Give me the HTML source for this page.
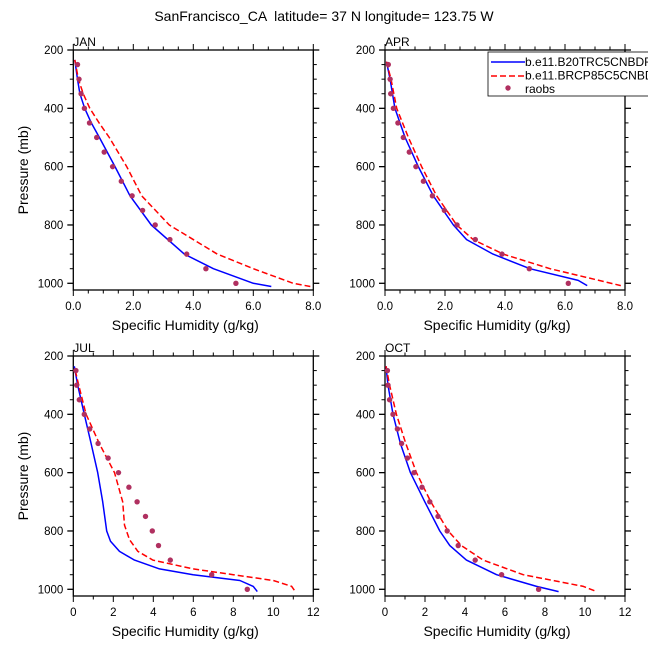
<!DOCTYPE html>
<html><head><meta charset="utf-8"><style>
body{margin:0;background:#fff;}
svg{display:block;font-family:"Liberation Sans",Arial,sans-serif;}
</style></head><body>
<svg id="fig" width="648" height="649" xmlns="http://www.w3.org/2000/svg">
<text x="324" y="21" font-size="14" text-anchor="middle" style="white-space:pre">SanFrancisco_CA  latitude= 37 N longitude= 123.75 W</text>
</svg>
<script>
// ---- data ----
const panelNames = ["JAN","APR","JUL","OCT"];
const xMaxes = [8, 8, 12, 12];
const yTickLabels = [200, 400, 600, 800, 1000];
const xTickLabelsSmall = ["0.0","2.0","4.0","6.0","8.0"];
const xTickLabelsLarge = ["0","2","4","6","8","10","12"];
const raobsP = [250,300,350,400,450,500,550,600,650,700,750,800,850,900,950,1000];
const janRaobs = [0.14,0.19,0.26,0.37,0.54,0.78,1.03,1.31,1.6,1.96,2.31,2.73,3.22,3.78,4.42,5.42];
const aprRaobs = [0.11,0.17,0.19,0.28,0.43,0.61,0.81,1.03,1.28,1.58,1.98,2.4,3.01,3.9,4.81,6.11];
const julRaobs = [0.13,0.17,0.3,0.55,0.82,1.24,1.74,2.26,2.78,3.19,3.61,3.95,4.26,4.85,6.92,8.7];
const octRaobs = [0.12,0.15,0.23,0.4,0.62,0.83,1.12,1.45,1.85,2.24,2.65,3.11,3.66,4.51,5.83,7.68];
const janBlueP = [234,300,350,400,450,500,600,700,800,900,950,1000,1011];
const janBlueQ = [0.05,0.14,0.22,0.38,0.6,0.87,1.39,1.89,2.6,3.7,4.67,6.0,6.6];
const janRedP = [234,300,350,400,450,500,600,700,800,900,950,1000,1011];
const janRedQ = [0.05,0.17,0.33,0.55,0.86,1.2,1.78,2.28,3.2,4.8,6.0,7.33,7.9];
const aprBlueP = [240,300,400,500,600,700,800,850,900,950,990,1008];
const aprBlueQ = [0.05,0.17,0.33,0.67,1.11,1.61,2.28,2.72,3.6,4.83,6.44,6.74];
const aprRedP = [240,300,400,500,600,700,800,850,900,950,1008];
const aprRedQ = [0.05,0.2,0.39,0.78,1.22,1.72,2.39,2.94,3.94,5.5,7.86];
const julBlueP = [235,300,400,500,600,700,800,835,870,900,930,950,970,990,1008];
const julBlueQ = [0.05,0.22,0.55,0.89,1.22,1.47,1.67,1.86,2.31,3.06,4.31,5.99,8.33,9.0,9.2];
const julRedP = [250,300,400,500,600,700,780,830,870,900,930,950,970,990,1003];
const julRedQ = [0.1,0.27,0.64,1.3,2.06,2.47,2.56,2.81,3.23,3.98,5.99,8.0,10.0,10.92,11.05];
const octBlueP = [235,300,400,500,600,700,800,850,900,950,990,1008];
const octBlueQ = [0.05,0.15,0.4,0.77,1.27,1.99,2.74,3.24,4.07,5.58,7.58,8.68];
const octRedP = [235,300,400,500,600,700,800,850,900,950,990,1008];
const octRedQ = [0.05,0.23,0.57,1.04,1.57,2.29,3.16,3.82,4.91,6.91,9.92,10.58];
const legendLabels = ["b.e11.B20TRC5CNBDRD","b.e11.BRCP85C5CNBDRD","raobs"];

const NS="http://www.w3.org/2000/svg";
const svg=document.getElementById('fig');
function mk(tag,attrs,parent){const e=document.createElementNS(NS,tag);for(const k in attrs)e.setAttribute(k,attrs[k]);(parent||svg).appendChild(e);return e;}

const layout=[{l:73.3,t:50},{l:385,t:50},{l:73.3,t:356},{l:385,t:356}];
const W=240,H=240,PMIN=200,PMAX=1023;
const blues=[[janBlueP,janBlueQ],[aprBlueP,aprBlueQ],[julBlueP,julBlueQ],[octBlueP,octBlueQ]];
const reds=[[janRedP,janRedQ],[aprRedP,aprRedQ],[julRedP,julRedQ],[octRedP,octRedQ]];
const raobs=[janRaobs,aprRaobs,julRaobs,octRaobs];

for(let i=0;i<4;i++){
  const L=layout[i].l,T=layout[i].t,xm=xMaxes[i];
  const xs=q=>L+q/xm*W;
  const ys=p=>T+(p-PMIN)/(PMAX-PMIN)*H;
  const g=mk('g',{});
  
  
  const cp=mk('clipPath',{id:'cp'+i},g);mk('rect',{x:L,y:T,width:W,height:H},cp);
  const minorStep=xm===8?0.5:1, majorStep=2;
  for(let q=0;q<=xm+1e-9;q+=minorStep){
    const maj=Math.abs(q/majorStep-Math.round(q/majorStep))<1e-6;const len=maj?6:3.5;const x=xs(q);
    mk('line',{x1:x,y1:T+H,x2:x,y2:T+H+len,stroke:'#000','stroke-width':1},g);
    mk('line',{x1:x,y1:T,x2:x,y2:T-len,stroke:'#000','stroke-width':1},g);
  }
  for(let p=200;p<=1000;p+=50){
    const maj=p%200===0;const len=maj?6:3.5;const y=ys(p);
    mk('line',{x1:L,y1:y,x2:L-len,y2:y,stroke:'#000','stroke-width':maj?1.3:1},g);
    mk('line',{x1:L+W,y1:y,x2:L+W+len,y2:y,stroke:'#000','stroke-width':maj?1.3:1},g);
  }
  const labs=xm===8?xTickLabelsSmall:xTickLabelsLarge;
  labs.forEach((s,k)=>{const t=mk('text',{x:xs(k*2),y:T+H+20,'font-size':11.5,'text-anchor':'middle'},g);t.textContent=s;
    });
  yTickLabels.forEach(p=>{const t=mk('text',{x:L-10,y:ys(p)+4,'font-size':11.5,'text-anchor':'end'},g);t.textContent=p;
    });
  const fr=mk('rect',{x:L,y:T,width:W,height:H,fill:'none',stroke:'#000','stroke-width':1.3},g);
  
  const pl=mk('text',{x:L,y:T-4,'font-size':12},g);pl.textContent=panelNames[i];
  
  const xt=mk('text',{x:L+W/2-8,y:T+H+40,'font-size':14,'text-anchor':'middle'},g);xt.textContent='Specific Humidity (g/kg)';
  
  if(i%2===0){const yt=mk('text',{x:0,y:0,'font-size':14,'text-anchor':'middle',transform:`translate(28,${T+H/2}) rotate(-90)`},g);yt.textContent='Pressure (mb)';
    }
  const path=(P,Q)=>P.map((p,k)=>(k?'L':'M')+xs(Q[k]).toFixed(1)+','+ys(p).toFixed(1)).join(' ');
  const bl=mk('path',{d:path(blues[i][0],blues[i][1]),fill:'none',stroke:'#0000ff','stroke-width':1.5,'stroke-linejoin':'round','clip-path':`url(#cp${i})`},g);
  
  const rd=mk('path',{d:path(reds[i][0],reds[i][1]),fill:'none',stroke:'#ff0000','stroke-width':1.5,'stroke-dasharray':'6,3','stroke-linejoin':'round','clip-path':`url(#cp${i})`},g);
  
  raobs[i].forEach((q,k)=>{const c=mk('circle',{cx:xs(q),cy:ys(raobsP[k]),r:2.7,fill:'#b03060'},g);
    });
}
const lg=mk('g',{});


mk('rect',{x:488,y:52,width:170,height:44,fill:'#fff',stroke:'#000','stroke-width':0.8},lg);
mk('line',{x1:491,y1:62,x2:525,y2:62,stroke:'#0000ff','stroke-width':1.5},lg);
mk('line',{x1:491,y1:76,x2:525,y2:76,stroke:'#ff0000','stroke-width':1.5,'stroke-dasharray':'6,3'},lg);
mk('circle',{cx:508,cy:88,r:2.7,fill:'#b03060'},lg);
legendLabels.forEach((s,k)=>{const t=mk('text',{x:525,y:66+k*13.5,'font-size':12},lg);t.textContent=s;
  });
</script>
</body></html>
